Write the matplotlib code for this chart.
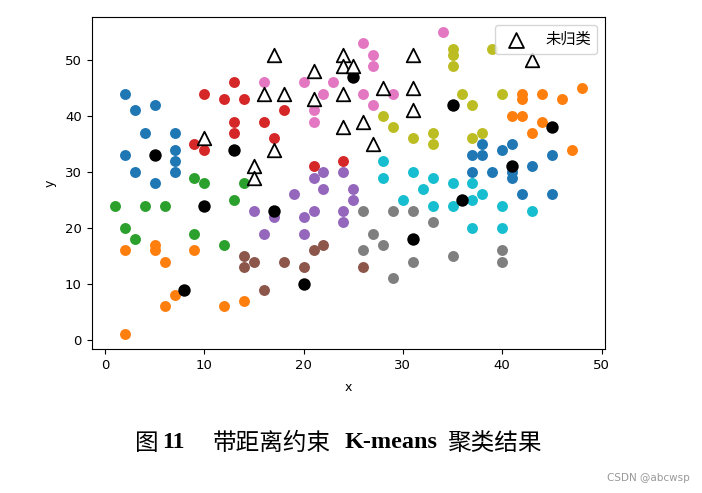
import matplotlib
matplotlib.use("Agg")
import matplotlib.pyplot as plt
import numpy as np

plt.rcParams['font.family'] = ['DejaVu Sans', 'Noto Sans CJK SC']

# cluster members (x, y), in cluster order (colour cycles through tab10)
c0_blue_x = [2, 3, 5, 4, 7, 2, 7, 7, 3, 7, 5]
c0_blue_y = [44, 41, 42, 37, 37, 33, 34, 32, 30, 30, 28]
c1_orange_x = [2, 5, 5, 6, 9, 7, 6, 12, 14, 2]
c1_orange_y = [16, 17, 16, 14, 16, 8, 6, 6, 7, 1]
c2_green_x = [9, 10, 14, 1, 4, 6, 13, 2, 3, 9, 12]
c2_green_y = [29, 28, 28, 24, 24, 24, 25, 20, 18, 19, 17]
c3_red_x = [10, 13, 12, 14, 13, 13, 16, 9, 10, 17, 18, 21, 24]
c3_red_y = [44, 46, 43, 43, 39, 37, 39, 35, 34, 36, 41, 31, 32]
c4_purple_x = [15, 16, 17, 20, 21, 24, 24, 20, 19, 22, 25, 25, 22, 21, 24]
c4_purple_y = [23, 19, 22, 22, 23, 23, 21, 19, 26, 27, 27, 25, 30, 29, 30]
c5_brown_x = [14, 15, 14, 16, 18, 20, 21, 22, 26]
c5_brown_y = [15, 14, 13, 9, 14, 13, 16, 17, 13]
c6_pink_x = [16, 20, 23, 22, 26, 27, 27, 26, 29, 27, 21, 21, 34]
c6_pink_y = [46, 46, 46, 44, 53, 51, 49, 44, 44, 42, 41, 39, 55]
c7_gray_x = [26, 29, 31, 33, 27, 28, 26, 31, 29, 35, 40, 40]
c7_gray_y = [23, 23, 23, 21, 19, 17, 16, 14, 11, 15, 16, 14]
c8_olive_x = [28, 29, 31, 33, 33, 35, 35, 35, 39, 36, 37, 40, 37, 38]
c8_olive_y = [40, 38, 36, 37, 35, 52, 51, 49, 52, 44, 42, 44, 36, 37]
c9_cyan_x = [28, 28, 31, 33, 32, 30, 33, 35, 37, 38, 37, 35, 40, 43, 37, 40]
c9_cyan_y = [32, 29, 30, 29, 27, 25, 24, 28, 28, 26, 25, 24, 24, 23, 20, 20]
c10_blue_x = [38, 37, 38, 40, 41, 45, 41, 41, 43, 37, 39, 42, 45]
c10_blue_y = [35, 33, 33, 34, 35, 33, 30, 29, 31, 30, 30, 26, 26]
c11_orange_x = [42, 42, 44, 46, 48, 41, 42, 44, 43, 47]
c11_orange_y = [44, 43, 44, 43, 45, 40, 40, 39, 37, 34]

centroid_x = [5, 8, 10, 13, 17, 20, 25, 31, 35, 36, 41, 45]
centroid_y = [33, 9, 24, 34, 23, 10, 47, 18, 42, 25, 31, 38]

unclassified_x = [17, 24, 24, 25, 21, 31, 43, 16, 18, 21, 24, 28, 31, 31, 26, 24, 27, 10, 17, 15, 15]
unclassified_y = [51, 51, 49, 49, 48, 51, 50, 44, 44, 43, 44, 45, 45, 41, 39, 38, 35, 36, 34, 31, 29]
legend_label = "未归类"

clusters = [
    (c0_blue_x, c0_blue_y), (c1_orange_x, c1_orange_y), (c2_green_x, c2_green_y),
    (c3_red_x, c3_red_y), (c4_purple_x, c4_purple_y), (c5_brown_x, c5_brown_y),
    (c6_pink_x, c6_pink_y), (c7_gray_x, c7_gray_y), (c8_olive_x, c8_olive_y),
    (c9_cyan_x, c9_cyan_y), (c10_blue_x, c10_blue_y), (c11_orange_x, c11_orange_y),
]
palette = plt.get_cmap('tab10').colors

fig = plt.figure(figsize=(7.02, 4.93), dpi=100)
ax = fig.add_axes([0.1305, 0.2911, 0.7313, 0.6744])

for i, (cx, cy) in enumerate(clusters):
    ax.scatter(cx, cy, s=62, color=palette[i % 10], linewidths=0, zorder=2)
ax.scatter(centroid_x, centroid_y, s=80, color='black', linewidths=0, zorder=3)
ax.scatter(unclassified_x, unclassified_y, s=95, marker='^', facecolors='white',
           edgecolors='black', linewidths=1.3, zorder=4, label=legend_label)

ax.set_xlabel('x', fontsize=9, labelpad=6)
ax.set_ylabel('y', fontsize=9, labelpad=6)
ax.tick_params(labelsize=9.5)
ax.set_xticks([0, 10, 20, 30, 40, 50])
ax.set_yticks([0, 10, 20, 30, 40, 50])
leg = ax.legend(loc='upper right', prop={'family': ['Noto Sans CJK SC'], 'size': 11},
                handletextpad=0.9, borderpad=0.4, markerscale=1.1)

# caption
cap_y = 1 - 443 / 493
fig.text(135 / 702, cap_y, "图", fontsize=17, family=['Noto Sans CJK SC'], va='center', ha='left')
fig.text(162 / 702, cap_y, "11", fontsize=17, family=['Liberation Serif'], weight='bold', va='center', ha='left')
fig.text(213 / 702, cap_y, "带距离约束", fontsize=17, family=['Noto Sans CJK SC'], va='center', ha='left')
fig.text(345 / 702, cap_y, "K-means", fontsize=17.5, family=['Liberation Serif'], weight='bold', va='center', ha='left')
fig.text(447 / 702, cap_y, "聚类结果", fontsize=17, family=['Noto Sans CJK SC'], va='center', ha='left')
fig.text(690 / 702, 1 - 478 / 493, "CSDN @abcwsp", fontsize=7.5, color='#999999', va='center', ha='right')

fig.savefig('out.png', dpi=100)
